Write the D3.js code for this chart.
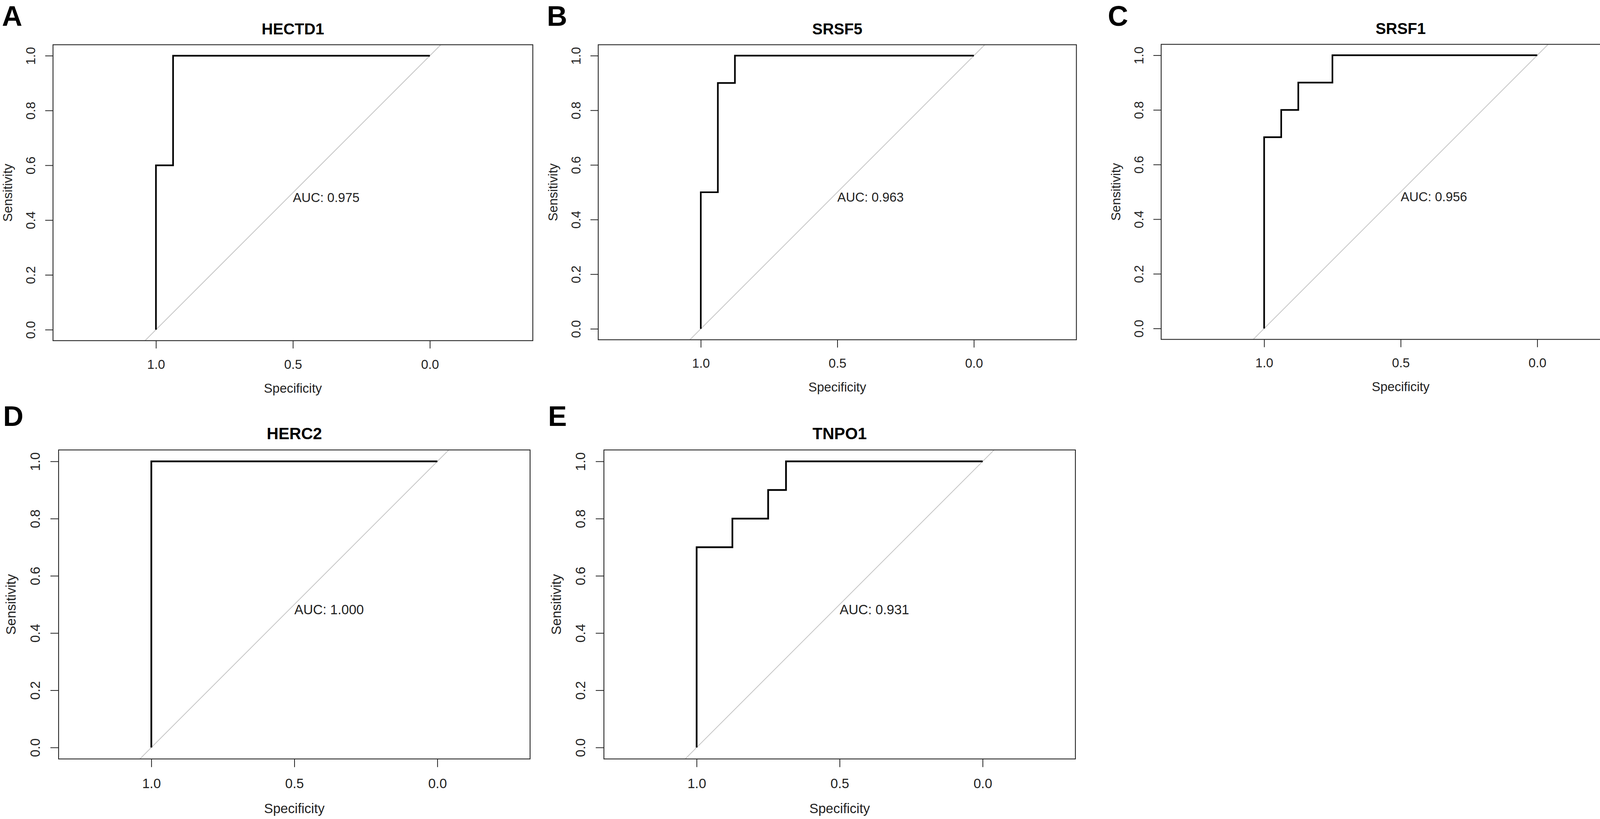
<!doctype html>
<html>
<head>
<meta charset="utf-8">
<style>
  body { margin: 0; background: #fff; }
  svg text { font-family: "Liberation Sans", Arial, sans-serif; }
</style>
</head>
<body>
<div id="container"></div>
<script src="https://d3js.org/d3.v7.min.js"></script>
<script type="text/javascript">

    // chart values
    var genes = ["HECTD1", "SRSF5", "SRSF1", "HERC2", "TNPO1"];
    var letters = ["A", "B", "C", "D", "E"];
    var aucs = [0.975, 0.963, 0.956, 1.000, 0.931];

    var specHECTD1 = [1, 1, 0.9375, 0.9375, 0];
    var sensHECTD1 = [0, 0.6, 0.6, 1, 1];
    var specSRSF5 = [1, 1, 0.9375, 0.9375, 0.875, 0.875, 0];
    var sensSRSF5 = [0, 0.5, 0.5, 0.9, 0.9, 1, 1];
    var specSRSF1 = [1, 1, 0.9375, 0.9375, 0.875, 0.875, 0.75, 0.75, 0];
    var sensSRSF1 = [0, 0.7, 0.7, 0.8, 0.8, 0.9, 0.9, 1, 1];
    var specHERC2 = [1, 1, 0];
    var sensHERC2 = [0, 1, 1];
    var specTNPO1 = [1, 1, 0.875, 0.875, 0.75, 0.75, 0.6875, 0.6875, 0];
    var sensTNPO1 = [0, 0.7, 0.7, 0.8, 0.8, 0.9, 0.9, 1, 1];

    var specs = [specHECTD1, specSRSF5, specSRSF1, specHERC2, specTNPO1];
    var senss = [sensHECTD1, sensSRSF5, sensSRSF1, sensHERC2, sensTNPO1];

    var xTicks = [1.0, 0.5, 0.0];
    var yTicks = [0, 0.2, 0.4, 0.6, 0.8, 1.0];

    // layout of the five plot boxes (page pixels)
    var boxes = [
        {x0: 135.7, x1: 1364, y0: 114.5, y1: 871.8},
        {x0: 1531.5, x1: 2755.6, y0: 114.5, y1: 869.5},
        {x0: 2972.6, x1: 4199, y0: 113.5, y1: 868.6},
        {x0: 150, x1: 1357, y0: 1151.5, y1: 1942.3},
        {x0: 1546, x1: 2753, y0: 1151.5, y1: 1942.3}
    ];
    var letterPos = [[5, 66], [1400, 66], [2836, 66], [8, 1090], [1403, 1090]];

    var width = 4202, height = 2096;
    var ink = "#222";

    var svg = d3.select("#container").append("svg")
        .attr("width", width)
        .attr("height", height);

    svg.append("rect").attr("width", width).attr("height", height).attr("fill", "#fff");

    genes.forEach(function (gene, i) {
        var b = boxes[i];
        var bw = b.x1 - b.x0, bh = b.y1 - b.y0;
        var s = bh / 757.3;

        // R style: y padded 4%, x at same units per pixel (asp = 1), centred on 0.5
        var y_scale = d3.scaleLinear().domain([-0.04, 1.04]).range([bh, 0]);
        var half = (bw / 2) / (bh / 1.08);
        var x_scale = d3.scaleLinear().domain([0.5 + half, 0.5 - half]).range([0, bw]);

        var g = svg.append("g").attr("transform", "translate(" + b.x0 + "," + b.y0 + ")");

        g.append("clipPath").attr("id", "clip" + i)
            .append("rect").attr("width", bw).attr("height", bh);

        // panel letter
        svg.append("text")
            .attr("x", letterPos[i][0])
            .attr("y", letterPos[i][1])
            .attr("font-size", 72)
            .attr("font-weight", "bold")
            .attr("fill", "#000")
            .text(letters[i]);

        // title
        g.append("text")
            .attr("x", bw / 2)
            .attr("y", -26.5 * s)
            .attr("text-anchor", "middle")
            .attr("font-size", 40 * s)
            .attr("font-weight", "bold")
            .attr("fill", "#000")
            .text(gene);

        // reference diagonal
        var draw_line = d3.line()
            .x(function (d) { return x_scale(d[0]); })
            .y(function (d) { return y_scale(d[1]); });

        g.append("path")
            .attr("clip-path", "url(#clip" + i + ")")
            .attr("d", draw_line([[1.5, -0.5], [-0.5, 1.5]]))
            .attr("fill", "none")
            .attr("stroke", "#c4c4c4")
            .attr("stroke-width", 2);

        // ROC curve
        g.append("path")
            .attr("d", draw_line(d3.zip(specs[i], senss[i])))
            .attr("fill", "none")
            .attr("stroke", "#000")
            .attr("stroke-width", 4.2 * s)
            .attr("stroke-linejoin", "miter");

        // x axis
        var xa = g.append("g")
            .attr("transform", "translate(0," + bh + ")")
            .call(d3.axisBottom(x_scale).tickValues(xTicks).tickSize(20 * s).tickFormat(d3.format(".1f")));
        xa.select(".domain").remove();
        xa.selectAll("line").attr("stroke", ink).attr("stroke-width", 2);
        xa.selectAll("text")
            .attr("y", 72 * s)
            .attr("dy", null)
            .attr("font-size", 33 * s)
            .attr("font-family", "Liberation Sans, Arial, sans-serif")
            .attr("fill", ink);

        // y axis
        var ya = g.append("g")
            .call(d3.axisLeft(y_scale).tickValues(yTicks).tickSize(20 * s).tickFormat(d3.format(".1f")));
        ya.select(".domain").remove();
        ya.selectAll("line").attr("stroke", ink).attr("stroke-width", 2);
        ya.selectAll("text")
            .attr("x", 0)
            .attr("y", 0)
            .attr("dy", null)
            .attr("transform", "translate(" + (-46 * s) + ",0) rotate(-90)")
            .attr("text-anchor", "middle")
            .attr("font-size", 33 * s)
            .attr("font-family", "Liberation Sans, Arial, sans-serif")
            .attr("fill", ink);

        // box
        g.append("rect")
            .attr("width", bw)
            .attr("height", bh)
            .attr("fill", "none")
            .attr("stroke", ink)
            .attr("stroke-width", 2.2);

        // axis titles
        g.append("text")
            .attr("x", bw / 2)
            .attr("y", bh + 133 * s)
            .attr("text-anchor", "middle")
            .attr("font-size", 33 * s)
            .attr("fill", ink)
            .text("Specificity");

        g.append("text")
            .attr("transform", "translate(" + (-105 * s) + "," + (bh / 2) + ") rotate(-90)")
            .attr("text-anchor", "middle")
            .attr("font-size", 33 * s)
            .attr("fill", ink)
            .text("Sensitivity");

        // AUC label, left/top anchored at (0.5, 0.5)
        g.append("text")
            .attr("x", x_scale(0.5))
            .attr("y", y_scale(0.5) + 24 * s)
            .attr("font-size", 33 * s)
            .attr("fill", ink)
            .text("AUC: " + d3.format(".3f")(aucs[i]));
    });
</script>
</body>
</html>
